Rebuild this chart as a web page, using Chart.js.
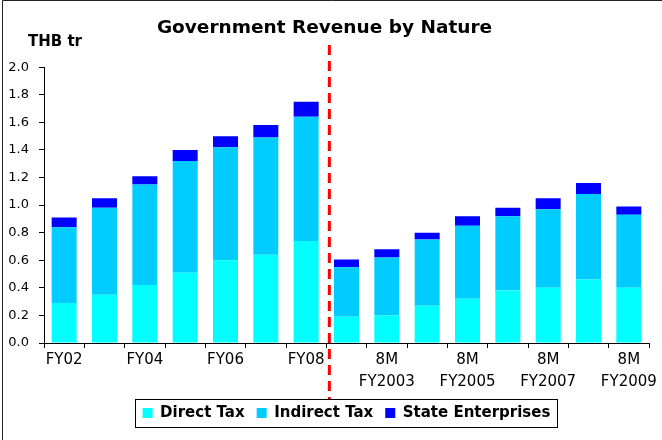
<!DOCTYPE html>
<html><head><meta charset="utf-8">
<script src="https://cdn.jsdelivr.net/npm/chart.js@4/dist/chart.umd.min.js"></script>
<style>html,body{margin:0;padding:0;background:#fff}#wrap{width:662px;height:440px;position:relative}</style>
</head><body><div id="wrap"><canvas id="c" width="662" height="440"></canvas></div>
<script>
const chartTitle = 'Government Revenue by Nature';
const unitLabel = 'THB tr';
const categories = ['FY02','FY03','FY04','FY05','FY06','FY07','FY08',
  '8M FY2002','8M FY2003','8M FY2004','8M FY2005','8M FY2006','8M FY2007','8M FY2008','8M FY2009'];
const tickLabels = ['FY02','','FY04','','FY06','','FY08',
  '',['8M','FY2003'],'',['8M','FY2005'],'',['8M','FY2007'],'',['8M','FY2009']];
const directTax        = [0.29,0.35,0.42,0.51,0.60,0.64,0.74, 0.19,0.20,0.27,0.32,0.38,0.40,0.46,0.40];
const indirectTax      = [0.55,0.63,0.73,0.81,0.82,0.85,0.90, 0.36,0.42,0.48,0.53,0.54,0.57,0.62,0.53];
const stateEnterprises = [0.07,0.07,0.06,0.08,0.08,0.09,0.11, 0.055,0.06,0.05,0.07,0.06,0.08,0.08,0.06];
const seriesNames = ['Direct Tax','Indirect Tax','State Enterprises'];
const dividerAfterIndex = 6;

const FONT = '"DejaVu Sans", "Liberation Sans", Arial, sans-serif';

const decor = {
  id: 'decor',
  afterLayout(chart) {
    const lg = chart.legend;
    const ca = chart.chartArea;
    const shift = (ca.left + ca.right) / 2 - (lg.left + lg.right) / 2;
    lg.left += shift; lg.right += shift;
  },
  afterDraw(chart) {
    const ctx = chart.ctx, xs = chart.scales.x, lg = chart.legend;
    ctx.save();
    // outer frame (left and top)
    ctx.strokeStyle = '#222'; ctx.lineWidth = 1;
    ctx.beginPath(); ctx.moveTo(2.5, 440); ctx.lineTo(2.5, 0.5); ctx.lineTo(662, 0.5); ctx.stroke();
    // unit label
    ctx.font = 'bold 15px ' + FONT; ctx.fillStyle = '#000';
    ctx.textBaseline = 'middle'; ctx.textAlign = 'left';
    ctx.fillText(unitLabel, 28, 42);
    // legend border
    const hb = lg.legendHitBoxes;
    const l = Math.min(...hb.map(h => h.left));
    const r = Math.max(...hb.map(h => h.left + h.width));
    const cy = hb[0].top + hb[0].height / 2;
    const bt = Math.round(cy - 14);
    ctx.strokeStyle = '#000'; ctx.lineWidth = 1;
    ctx.strokeRect(Math.round(l - 8) + 0.5, bt + 0.5, Math.round(r - l + 14), 28);
    // red dashed divider
    const xl = (xs.getPixelForValue(dividerAfterIndex) + xs.getPixelForValue(dividerAfterIndex + 1)) / 2 + 3;
    ctx.strokeStyle = '#ff0000'; ctx.lineWidth = 3; ctx.setLineDash([10, 6]);
    ctx.beginPath(); ctx.moveTo(xl, 45); ctx.lineTo(xl, bt); ctx.stroke();
    ctx.restore();
  }
};

new Chart(document.getElementById('c'), {
  type: 'bar',
  data: {
    labels: categories,
    datasets: [
      {label: seriesNames[0], data: directTax, backgroundColor: '#00FFFF', borderWidth: 0},
      {label: seriesNames[1], data: indirectTax, backgroundColor: '#00CCFF', borderWidth: 0},
      {label: seriesNames[2], data: stateEnterprises, backgroundColor: '#0000FF', borderWidth: 0}
    ]
  },
  options: {
    responsive: false,
    animation: false,
    devicePixelRatio: 1,
    layout: {padding: {left: 0, right: 13, top: 0, bottom: 9.5}},
    datasets: {bar: {barPercentage: 0.62, categoryPercentage: 1}},
    plugins: {
      title: {display: true, text: chartTitle, color: '#000',
        font: {family: FONT, size: 18.5, weight: 'bold', lineHeight: 1.2},
        padding: {top: 17, bottom: 28}},
      legend: {position: 'bottom',
        labels: {color: '#000', boxWidth: 10, boxHeight: 10, padding: 12,
          font: {family: FONT, size: 15, weight: 'bold'}}},
      tooltip: {enabled: false}
    },
    scales: {
      x: {
        stacked: true,
        afterFit(s) { s.height = 50.5; },
        grid: {display: true, drawOnChartArea: false, drawTicks: true, tickLength: 5, color: '#000', offset: true},
        border: {display: true, color: '#000', width: 1},
        ticks: {autoSkip: false, maxRotation: 0, minRotation: 0, padding: 1, color: '#000',
          font: {family: FONT, size: 15, lineHeight: 1.45},
          callback: (v, i) => tickLabels[i]}
      },
      y: {
        stacked: true, min: 0, max: 2.0,
        afterFit(s) { s.width = 44; },
        grid: {display: true, drawOnChartArea: false, drawTicks: true, tickLength: 5, color: '#000'},
        border: {display: true, color: '#000', width: 1},
        ticks: {stepSize: 0.2, padding: 10, color: '#000',
          font: {family: FONT, size: 13},
          callback: v => Number(v).toFixed(1)}
      }
    }
  },
  plugins: [decor]
});
</script></body></html>
